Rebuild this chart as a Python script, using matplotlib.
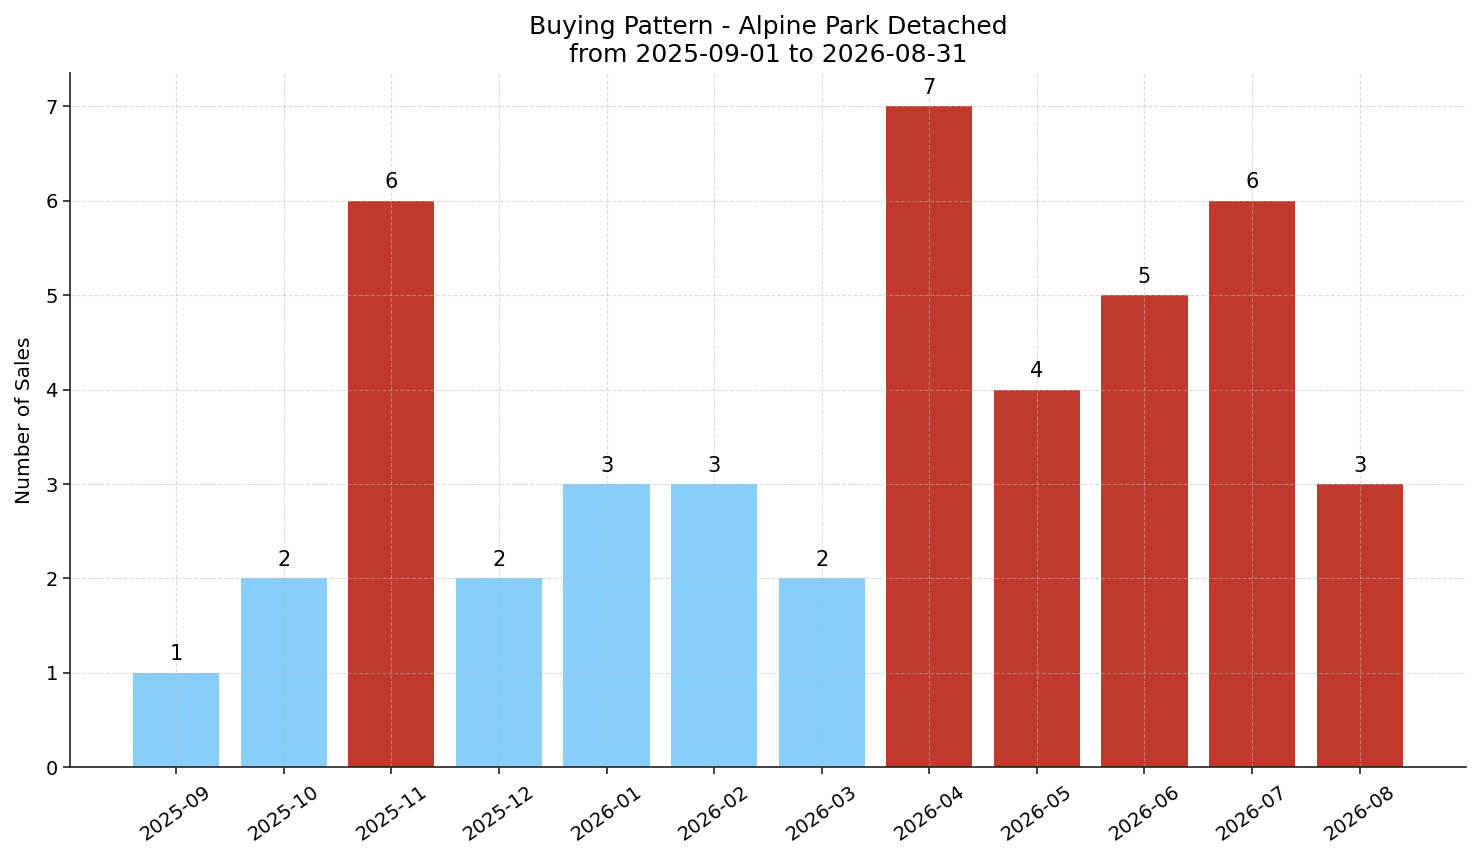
import matplotlib
matplotlib.use("Agg")
import matplotlib.pyplot as plt

# monthly sales
months = ["2025-09", "2025-10", "2025-11", "2025-12", "2026-01", "2026-02",
          "2026-03", "2026-04", "2026-05", "2026-06", "2026-07", "2026-08"]
sales = [1, 2, 6, 2, 3, 3, 2, 7, 4, 5, 6, 3]
# busy months get the red colour
busy = [False, False, True, False, False, False, False, True, True, True, True, True]

colors = ["#c0392b" if b else "#87cefa" for b in busy]

fig, ax = plt.subplots(figsize=(14.81, 8.63), dpi=100)
bars = ax.bar(months, sales, color=colors, width=0.8)

for bar, v in zip(bars, sales):
    ax.text(bar.get_x() + bar.get_width() / 2, v + 0.09, str(v),
            ha="center", va="bottom", fontsize=15)

ax.set_title("Buying Pattern - Alpine Park Detached\nfrom 2025-09-01 to 2026-08-31", fontsize=18, pad=8)
ax.set_ylabel("Number of Sales", fontsize=14.5, labelpad=8)
ax.grid(True, linestyle="--", alpha=0.5, color="#bbbbbb")
ax.spines["top"].set_visible(False)
ax.spines["right"].set_visible(False)
for s in ("left", "bottom"):
    ax.spines[s].set_color("#222222")
    ax.spines[s].set_linewidth(1.2)
ax.tick_params(axis="both", labelsize=14, length=5, width=1.2, color="#222222")
ax.tick_params(axis="x", pad=6)
plt.setp(ax.get_xticklabels(), rotation=35)

fig.subplots_adjust(left=0.047, right=0.99, top=0.915, bottom=0.111)
fig.savefig("out.png", dpi=100)
